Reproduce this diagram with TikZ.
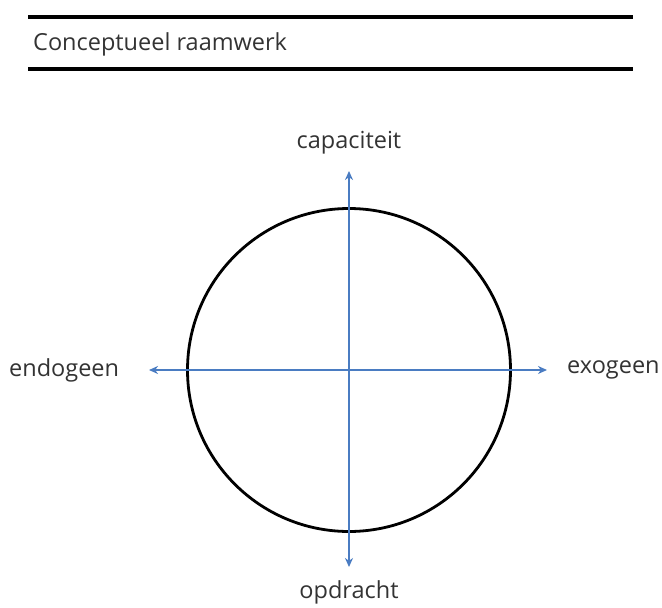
\documentclass[tikz,border=0pt]{standalone}
\usepackage{fontspec}
\setmainfont{Open Sans}
\usetikzlibrary{arrows.meta}
\definecolor{axisblue}{HTML}{4A7CC2}
\definecolor{txtgray}{HTML}{333333}
\tikzset{
  lbl/.style={text=txtgray, font=\fontsize{23.5}{26}\selectfont, inner sep=0pt},
  rule/.style={line width=3.5pt, black},
  axis/.style={axisblue, line width=2.5pt, -{Stealth[length=9pt,width=8pt]}},
}
\begin{document}
\begin{tikzpicture}[x=1pt,y=-1pt]
\useasboundingbox (0,0) rectangle (662,608);
\coordinate (r1a) at (28,17); \coordinate (r1b) at (633,17);
\coordinate (r2a) at (28,69); \coordinate (r2b) at (633,69);
\draw[rule] (r1a) -- (r1b);
\draw[rule] (r2a) -- (r2b);
\node[lbl, anchor=west] (title) at (33,44) {Conceptueel raamwerk};
\node[draw, circle, line width=2.8pt, minimum size=323pt, inner sep=0pt] (c) at (349,370) {};
\coordinate (top) at (349,171);
\coordinate (bot) at (349,567);
\coordinate (lft) at (149,370);
\coordinate (rgt) at (547,370);
\draw[axis] (c.center) -- (top);
\draw[axis] (c.center) -- (bot);
\draw[axis] (c.center) -- (lft);
\draw[axis] (c.center) -- (rgt);
\node[lbl] (cap) at (349,143) {capaciteit};
\node[lbl] (opd) at (349,592) {opdracht};
\node[lbl, anchor=west] (endo) at (9,370) {endogeen};
\node[lbl, anchor=west] (exo) at (567,370) {exogeen};
\end{tikzpicture}
\end{document}
